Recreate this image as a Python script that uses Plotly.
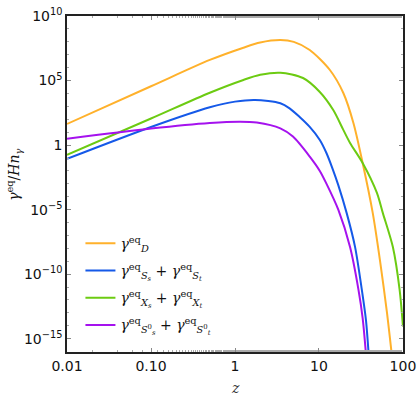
import numpy as np
import plotly.graph_objects as go

# ------------------------------------------------------------
# Dati (log10 z, log10 gamma^eq / H n_gamma)
# ------------------------------------------------------------
LZ_D = [-2.0, -1.0, -0.3, 0.1, 0.3, 0.54, 0.7, 0.89, 1.13, 1.29, 1.41, 1.52, 1.64, 1.73, 1.81, 1.88]
LY_D = [1.64, 4.56, 6.6, 7.55, 7.95, 8.14, 8.0, 7.37, 5.82, 4.04, 1.72, -1.38, -5.25, -9.1, -13.0, -17.0]

LZ_S = [-2.0, -1.0, -0.3, 0.0, 0.24, 0.54, 0.65, 0.77, 0.89, 1.01, 1.09, 1.16, 1.23, 1.33, 1.43, 1.51, 1.56, 1.60]
LY_S = [-1.07, 1.40, 2.93, 3.37, 3.5, 3.24, 2.85, 2.18, 1.41, 0.40, -0.63, -1.8, -3.1, -5.27, -7.9, -11.2, -13.6, -17.0]

LZ_X = [-2.0, -1.0, -0.3, 0.1, 0.3, 0.54, 0.81, 1.01, 1.17, 1.29, 1.37, 1.52, 1.69, 1.76, 1.88, 1.96, 2.0]
LY_X = [-0.76, 2.06, 4.06, 5.05, 5.45, 5.61, 5.2, 4.12, 2.72, 1.18, 0.17, -1.38, -3.7, -5.25, -7.9, -11.2, -14.05]

LZ_S0 = [-2.0, -1.0, -0.3, 0.06, 0.26, 0.54, 0.69, 0.89, 1.01, 1.09, 1.23, 1.37, 1.47, 1.52, 1.57]
LY_S0 = [0.50, 1.29, 1.72, 1.82, 1.75, 1.3, 0.66, -0.89, -2.0, -3.0, -5.0, -7.9, -11.2, -13.4, -17.0]

NOMI = [
    "<i>γ</i><sup>eq</sup><sub><i>D</i></sub>",
    "<i>γ</i><sup>eq</sup><sub><i>S<sub>s</sub></i></sub> + <i>γ</i><sup>eq</sup><sub><i>S<sub>t</sub></i></sub>",
    "<i>γ</i><sup>eq</sup><sub><i>X<sub>s</sub></i></sub> + <i>γ</i><sup>eq</sup><sub><i>X<sub>t</sub></i></sub>",
    "<i>γ</i><sup>eq</sup><sub><i>S</i><sup>0</sup><sub><i>s</i></sub></sub> + <i>γ</i><sup>eq</sup><sub><i>S</i><sup>0</sup><sub><i>t</i></sub></sub>",
]
COLORI = ["#FFB12B", "#1559E8", "#6CCB12", "#A512EE"]

X_TICKS = [0.01, 0.1, 1, 10, 100]
X_LABELS = ["0.01", "0.10", "1", "10", "100"]
Y_EXP = [10, 5, 0, -5, -10, -15]
Y_LABELS = ["10<sup>10</sup>", "10<sup>5</sup>", "1", "10<sup>−5</sup>", "10<sup>−10</sup>", "10<sup>−15</sup>"]

serie = [(LZ_D, LY_D), (LZ_S, LY_S), (LZ_X, LY_X), (LZ_S0, LY_S0)]

fig = go.Figure()
for n, ((lz, ly), nome, col) in enumerate(zip(serie, NOMI, COLORI)):
    fig.add_trace(go.Scatter(
        x=10 ** np.array(lz), y=10 ** np.array(ly),
        mode="lines", name=nome, legendgroup=f"g{n}",
        line=dict(color=col, width=2, shape="spline", smoothing=0.8),
    ))

asse = dict(
    type="log", showline=True, linecolor="#222", linewidth=1.5, mirror="allticks",
    ticks="inside", ticklen=4, tickcolor="#888", showgrid=False, zeroline=False,
    automargin=False,
    tickfont=dict(family="DejaVu Sans", size=14, color="#111"),
)

fig.update_layout(
    width=420, height=420,
    margin=dict(l=67, r=17, t=16, b=68),
    paper_bgcolor="white", plot_bgcolor="white",
    xaxis=dict(asse, range=[-2.0005, 2.0005], tickvals=X_TICKS, ticktext=X_LABELS,
               minor=dict(ticks="inside", ticklen=2, tickcolor="#aaa", showgrid=False)),
    yaxis=dict(asse, range=[-16.03, 10.005],
               tickvals=[10.0 ** e for e in Y_EXP], ticktext=Y_LABELS,
               minor=dict(ticks="inside", ticklen=2, tickcolor="#aaa", showgrid=False,
                          tickvals=[10.0 ** e for e in range(-15, 11)])),
    legend=dict(x=0.04, y=0.37, xanchor="left", yanchor="top", tracegroupgap=6,
                bgcolor="rgba(0,0,0,0)", font=dict(family="DejaVu Serif", size=14, color="#111")),
    annotations=[
        dict(text="<i>z</i>", xref="paper", yref="paper", x=0.5, y=-0.107, yanchor="middle",
             showarrow=False, font=dict(family="DejaVu Serif", size=14, color="#333")),
        dict(text="<i>γ</i><sup>eq</sup>/<i>Hn<sub>γ</sub></i>", xref="paper", yref="paper",
             x=-0.158, y=0.527, xanchor="center", yanchor="middle", textangle=-90, showarrow=False,
             font=dict(family="DejaVu Serif", size=14, color="#111")),
    ],
)

# niente margine del body: la figura 420x420 riempie esattamente la finestra
fig.write_html("out.html", config={"displayModeBar": False},
               post_script="document.body.style.margin='0';")
